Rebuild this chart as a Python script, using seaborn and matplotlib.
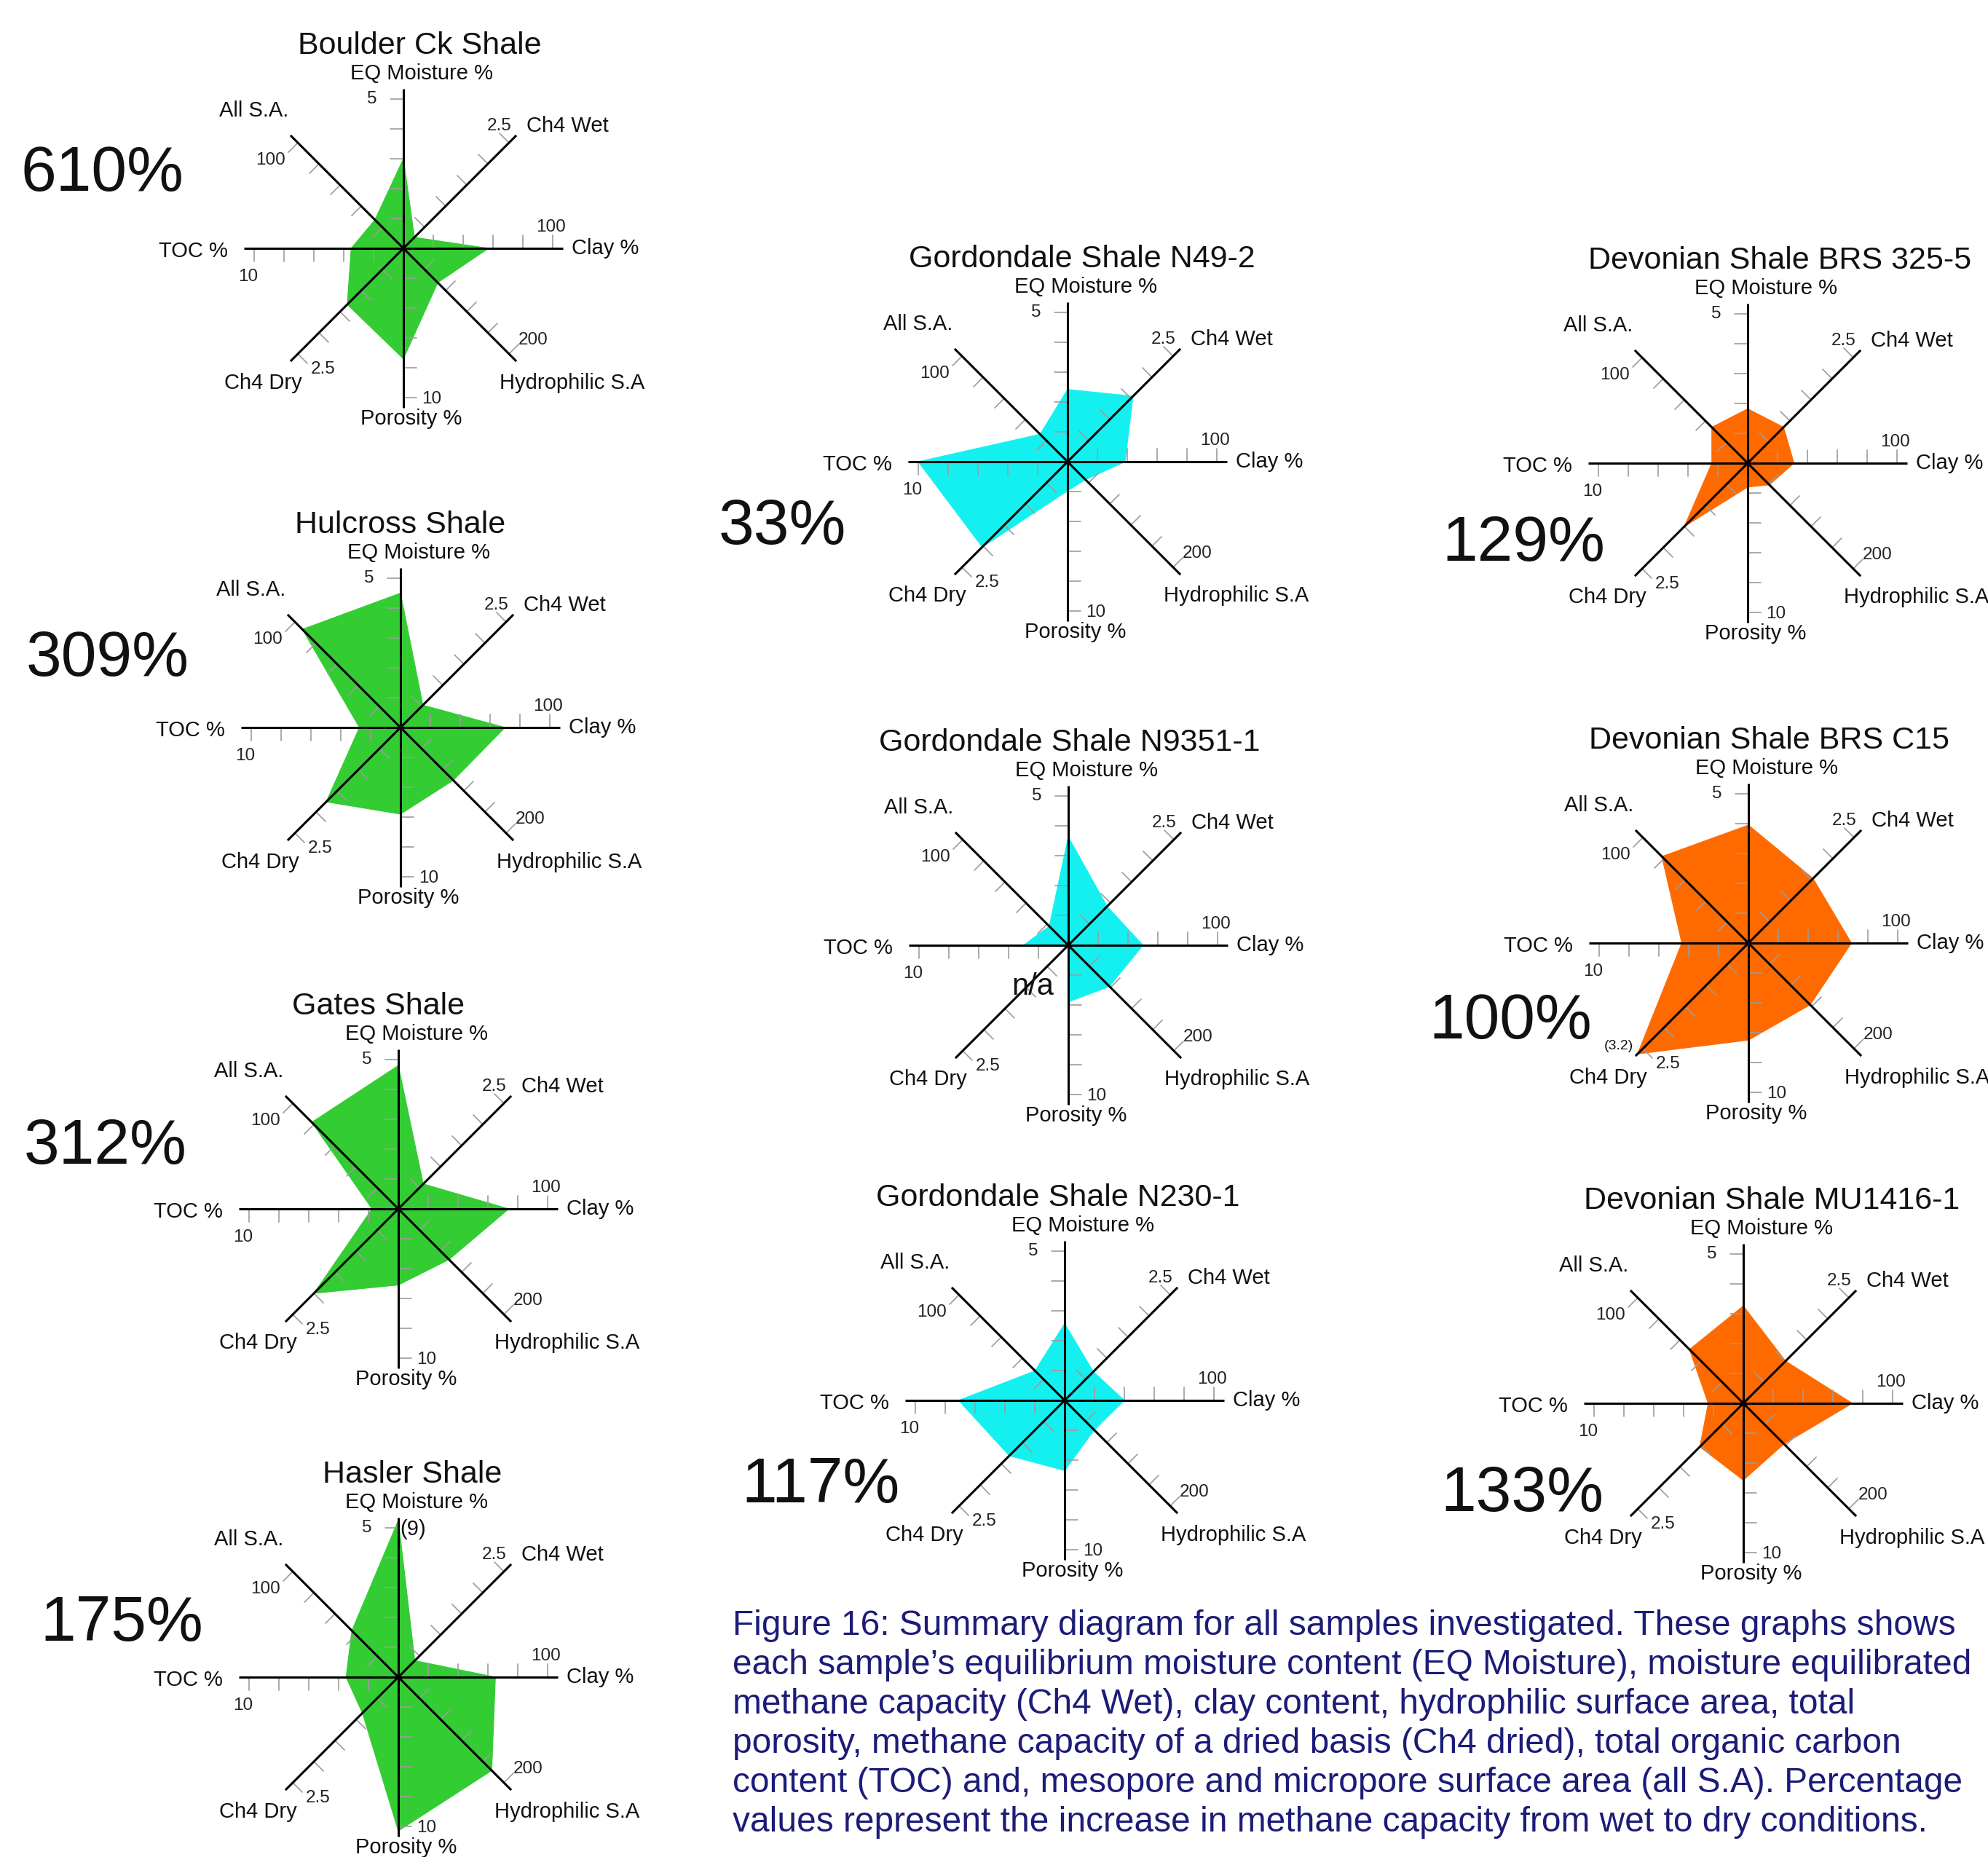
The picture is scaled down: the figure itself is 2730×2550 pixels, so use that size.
import numpy as np
import pandas as pd
import matplotlib
matplotlib.use("Agg")
import matplotlib.pyplot as plt
import seaborn as sns

# spokes, clockwise from the top
axis_names = ["EQ Moisture %", "Ch4 Wet", "Clay %", "Hydrophilic S.A",
              "Porosity %", "Ch4 Dry", "TOC %", "All S.A."]
axis_max = [5, 2.5, 100, 200, 10, 2.5, 10, 100]
axis_max_labels = ["5", "2.5", "100", "200", "10", "2.5", "10", "100"]
axis_angles = [90, 45, 0, -45, -90, -135, 180, 135]

# values (same order as axis_names)
boulder_ck = [3.0, 0.26, 57, 65, 7.4, 1.33, 3.5, 27]
hulcross = [4.5, 0.53, 70, 100, 5.8, 1.76, 2.75, 93]
gates = [4.8, 0.59, 74, 96, 5.1, 2.0, 1.76, 82]
hasler = [9.0, 0.39, 65, 177, 10.3, 0.85, 3.5, 44]
n49_2 = [2.42, 1.55, 38.5, 34, 1.95, 2.02, 10.0, 26]
n9351_1 = [3.63, 0.92, 50, 78, 3.8, np.nan, 3.0, 18]
n230_1 = [2.57, 0.68, 40, 56, 4.7, 1.31, 7.1, 28]
brs_325_5 = [1.82, 0.85, 31, 41, 1.6, 1.5, 2.4, 34]
brs_c15 = [3.95, 1.53, 69, 117, 6.5, 3.2, 4.46, 82]
mu1416_1 = [3.26, 1.0, 73, 77, 5.15, 1.03, 2.35, 51]

sample_names = ["Boulder Ck Shale", "Hulcross Shale", "Gates Shale", "Hasler Shale",
                "Gordondale Shale N49-2", "Gordondale Shale N9351-1", "Gordondale Shale N230-1",
                "Devonian Shale BRS 325-5", "Devonian Shale BRS C15", "Devonian Shale MU1416-1"]
sample_values = [boulder_ck, hulcross, gates, hasler, n49_2, n9351_1, n230_1,
                 brs_325_5, brs_c15, mu1416_1]
increase_labels = ["610%", "309%", "312%", "175%", "33%", "", "117%", "129%", "100%", "133%"]
green, cyan, orange = "#33CC33", "#14F0F0", "#FF6A00"
sample_colors = [green] * 4 + [cyan] * 3 + [orange] * 3

caption_lines = [
    "Figure 16: Summary diagram for all samples investigated. These graphs shows",
    "each sample\u2019s equilibrium moisture content (EQ Moisture), moisture equilibrated",
    "methane capacity (Ch4 Wet), clay content, hydrophilic surface area, total",
    "porosity, methane capacity of a dried basis (Ch4 dried), total organic carbon",
    "content (TOC) and, mesopore and micropore surface area (all S.A). Percentage",
    "values represent the increase in methane capacity from wet to dry conditions.",
]

# layout (pixels of the 2730x2550 picture)
W, H = 2730, 2550
R = 205  # pixels for a full axis
centers = [(554, 341), (550, 999), (547, 1660), (547, 2303),
           (1466, 634), (1467, 1298), (1462, 1923),
           (2400, 636), (2401, 1295), (2394, 1927)]
title_dx = [22, 0, -27, 19, 20, 2, -9, 44, 28, 39]
pct_pos = [(140, 231), (148, 897), (145, 1567), (167, 2222),
           (1074, 716), (0, 0), (1127, 2032),
           (2092, 739), (2074, 1395), (2090, 2044)]
# label spots in axis units, per spoke
max_label_xy = [(-0.21, 1.0), (0.64, 0.82), (0.99, 0.14), (0.87, -0.615),
                (0.19, -1.01), (-0.54, -0.81), (-1.04, -0.19), (-0.89, 0.59)]
name_label_xy = [(0.12, 1.17), (1.10, 0.82), (1.35, 0.0), (1.13, -0.90),
                 (0.05, -1.14), (-0.94, -0.90), (-1.41, -0.02), (-1.0, 0.92)]
notes = {3: [("(9)", 0.10, 0.99, 21)], 8: [("(3.2)", -0.87, -0.69, 14)],
         5: [("n/a", -0.24, -0.28, 30)]}

sns.set_theme(style="white")
plt.rcParams['font.family'] = ['Liberation Sans', 'DejaVu Sans']

fig = plt.figure(figsize=(W / 100, H / 100), dpi=100)
fig.patch.set_facecolor("white")

ang = np.deg2rad(axis_angles)
half = 1.6
for i, name in enumerate(sample_names):
    cx, cy = centers[i]
    hp = half * R
    ax = fig.add_axes([(cx - hp) / W, 1 - (cy + hp) / H, 2 * hp / W, 2 * hp / H])
    ax.set_xlim(-half, half)
    ax.set_ylim(-half, half)
    ax.axis("off")

    df = pd.DataFrame({"axis": axis_names, "value": sample_values[i],
                       "max": axis_max, "angle": ang})
    df["r"] = (df["value"] / df["max"]).clip(upper=1.05).fillna(0)
    df["x"] = df["r"] * np.cos(df["angle"])
    df["y"] = df["r"] * np.sin(df["angle"])
    poly = pd.concat([df, df.iloc[:1]], ignore_index=True)
    ax.fill(df["x"], df["y"], color=sample_colors[i], lw=0, zorder=1)
    sns.lineplot(data=poly, x="x", y="y", sort=False, estimator=None,
                 color=sample_colors[i], lw=0.8, ax=ax, zorder=1.5)

    for k, a in enumerate(ang):
        ca, sa = np.cos(a), np.sin(a)
        ax.plot([0, 1.07 * ca], [0, 1.07 * sa], color="black", lw=2.2,
                solid_capstyle="butt", zorder=3)
        tc, ts = np.cos(a + np.pi / 2), np.sin(a + np.pi / 2)
        for t in [0.2, 0.4, 0.6, 0.8, 1.0]:
            ax.plot([t * ca, t * ca + 0.09 * tc], [t * sa, t * sa + 0.09 * ts],
                    color="#9c9c9c", lw=1.2, zorder=2)
        mx, my = max_label_xy[k]
        ax.text(mx, my, axis_max_labels[k], ha="center", va="center",
                fontsize=17.5, color="#222222")
        nx, ny = name_label_xy[k]
        ax.text(nx, ny, axis_names[k], ha="center", va="center",
                fontsize=21, color="#111111")

    for txt, nx, ny, fs in notes.get(i, []):
        ax.text(nx, ny, txt, ha="center", va="center", fontsize=fs,
                color="#111111", zorder=4)

    fig.text((cx + title_dx[i]) / W, 1 - (cy - 282 + 15) / H, name,
             ha="center", va="baseline", fontsize=31, color="#111111")
    if increase_labels[i]:
        px, py = pct_pos[i]
        fig.text(px / W, 1 - (py + 31) / H, increase_labels[i],
                 ha="center", va="baseline", fontsize=63, color="#111111")

for j, line in enumerate(caption_lines):
    fig.text(1006 / W, 1 - (2228 + 17 + j * 54) / H, line, ha="left",
             va="baseline", fontsize=34.5, color="#1c1c78")

fig.savefig("out.png", dpi=100, facecolor="white")
